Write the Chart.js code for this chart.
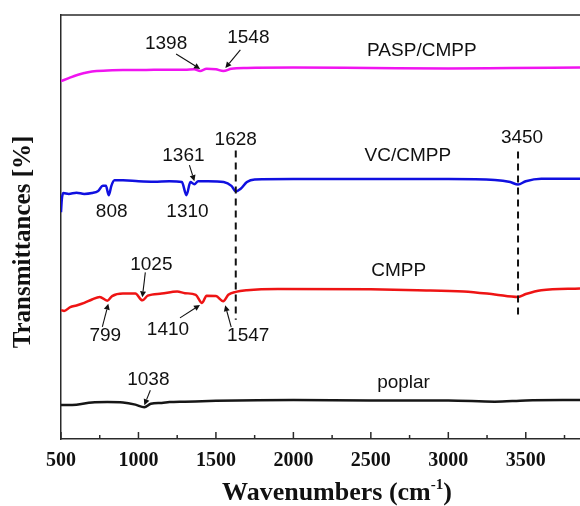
<!DOCTYPE html>
<html>
<head>
<meta charset="utf-8">
<script src="https://cdn.jsdelivr.net/npm/chart.js@4.4.1/dist/chart.umd.min.js"></script>
<style>
  body { margin: 0; background: #fff; }
  canvas { display: block; }
</style>
</head>
<body>
<canvas id="ftir" width="580" height="506"></canvas>
<script>
// FTIR spectra: wavenumber (cm-1) vs transmittance, curves offset for clarity
const paspWn = [500, 550, 600, 650, 700, 800, 900, 1000, 1100, 1200, 1300, 1360, 1398, 1440, 1500, 1548, 1600, 1700, 2000, 2500, 3000, 3400, 3850];
const paspT  = [84.4, 85.1, 85.8, 86.3, 86.7, 86.9, 87.0, 87.0, 87.1, 87.1, 87.1, 87.2, 86.8, 87.3, 87.2, 86.8, 87.3, 87.5, 87.6, 87.5, 87.4, 87.5, 87.6];

const vcWn = [500, 505, 515, 550, 600, 650, 700, 740, 770, 790, 808, 825, 845, 900, 1000, 1100, 1200, 1280, 1310, 1335, 1361, 1385, 1450, 1550, 1600, 1628, 1660, 1700, 1750, 2000, 2500, 3000, 3300, 3400, 3450, 3500, 3600, 3850];
const vcT  = [53.5, 56.4, 58.0, 57.8, 58.1, 57.8, 58.0, 58.5, 59.7, 59.7, 57.5, 59.7, 61.0, 61.0, 60.8, 60.7, 60.8, 60.6, 57.5, 60.6, 60.1, 60.8, 60.8, 60.6, 59.7, 58.4, 59.0, 60.6, 61.2, 61.3, 61.3, 61.3, 61.1, 60.6, 60.0, 60.8, 61.4, 61.4];

const cmppWn = [500, 520, 560, 600, 650, 700, 750, 799, 830, 900, 980, 1025, 1060, 1150, 1250, 1300, 1370, 1410, 1440, 1500, 1547, 1580, 1628, 1700, 1900, 2500, 2800, 3100, 3300, 3450, 3500, 3600, 3850];
const cmppT  = [30.4, 30.2, 31.1, 31.5, 32.1, 32.9, 33.5, 32.6, 33.7, 34.3, 34.3, 32.7, 33.8, 34.3, 34.8, 34.4, 34.0, 32.1, 33.8, 33.7, 32.5, 34.0, 34.7, 35.1, 35.4, 35.3, 35.1, 34.8, 34.1, 33.5, 34.2, 35.1, 35.5];

const poplarWn = [500, 600, 700, 800, 900, 980, 1038, 1080, 1150, 1200, 1300, 1500, 2000, 2500, 3000, 3300, 3500, 3850];
const poplarT  = [8.0, 8.1, 8.6, 8.7, 8.6, 8.1, 7.5, 8.3, 8.5, 8.7, 8.8, 9.0, 9.2, 9.1, 9.1, 8.8, 9.1, 9.2];

const seriesNames = ['PASP/CMPP', 'VC/CMPP', 'CMPP', 'poplar'];
const xTicks = [500, 1000, 1500, 2000, 2500, 3000, 3500];
const xMinorTicks = [750, 1250, 1750, 2250, 2750, 3250, 3750];

// labelled bands on each curve
const paspPeaks = [1398, 1548];
const vcPeaks = [808, 1310, 1361];
const cmppPeaks = [799, 1025, 1410, 1547];
const poplarPeaks = [1038];
const guideBands = [1628, 3450];

const curves = [
  { wn: paspWn, t: paspT, color: '#f014f0', peaks: paspPeaks },
  { wn: vcWn, t: vcT, color: '#1010e0', peaks: vcPeaks },
  { wn: cmppWn, t: cmppT, color: '#ee1414', peaks: cmppPeaks },
  { wn: poplarWn, t: poplarT, color: '#161616', peaks: poplarPeaks }
];

// pixel offsets from the curve point: text centre, arrow tail, arrow tip
const peakLayout = {
  '0:1398': { text: [-34, -27], from: [-24, -17], tip: [0, -2] },
  '0:1548': { text: [25, -33], from: [17, -21], tip: [2, -3] },
  '1:808':  { text: [3, 17] },
  '1:1310': { text: [1, 17] },
  '1:1361': { text: [-11, -28], from: [-5, -19], tip: [0, -3] },
  '2:799':  { text: [-2, 35], from: [-5, 26], tip: [1, 3] },
  '2:1025': { text: [9, -36], from: [3, -28], tip: [0, -3] },
  '2:1410': { text: [-34, 27], from: [-22, 15], tip: [-2, 2] },
  '2:1547': { text: [25, 35], from: [8, 26], tip: [2, 4] },
  '3:1038': { text: [4, -27], from: [6, -17], tip: [0, -2] }
};
// dashed guides: from above VC/CMPP down past CMPP
const guideLayout = {
  1628: { top: -41, bottom: 28, text: [0, -11] },
  3450: { top: -33, bottom: 18, text: [4, -14] }
};
// curve names: anchored at a wavenumber, lifted above the curve
const nameLayout = [[2829, -18], [2739, -23], [2680, -19], [2711, -18]];

function valueAt(wn, t, w) {
  for (let i = 1; i < wn.length; i++) {
    if (w <= wn[i]) {
      const f = (w - wn[i - 1]) / (wn[i] - wn[i - 1]);
      return t[i - 1] + f * (t[i] - t[i - 1]);
    }
  }
  return t[t.length - 1];
}

const labelFont = '19px "Liberation Sans", Arial, sans-serif';
const ink = '#111';

function arrow(ctx, x0, y0, x1, y1) {
  const a = Math.atan2(y1 - y0, x1 - x0);
  const len = 6, half = 3;
  ctx.beginPath();
  ctx.moveTo(x0, y0);
  ctx.lineTo(x1 - Math.cos(a) * len, y1 - Math.sin(a) * len);
  ctx.stroke();
  ctx.beginPath();
  ctx.moveTo(x1, y1);
  ctx.lineTo(x1 - Math.cos(a) * len - Math.sin(a) * half, y1 - Math.sin(a) * len + Math.cos(a) * half);
  ctx.lineTo(x1 - Math.cos(a) * len + Math.sin(a) * half, y1 - Math.sin(a) * len - Math.cos(a) * half);
  ctx.closePath();
  ctx.fill();
}

const decorations = {
  id: 'decorations',
  afterDraw(chart) {
    const ctx = chart.ctx;
    const xs = chart.scales.x, ys = chart.scales.y;
    const area = chart.chartArea;
    const at = (ci, w) => {
      const c = curves[ci];
      return { x: xs.getPixelForValue(w), y: ys.getPixelForValue(valueAt(c.wn, c.t, w)) };
    };

    ctx.save();
    // top frame line and inward ticks
    ctx.strokeStyle = '#2a2a2a';
    ctx.lineWidth = 1.5;
    ctx.beginPath();
    ctx.moveTo(area.left, area.top);
    ctx.lineTo(area.right, area.top);
    ctx.stroke();
    xTicks.forEach(v => {
      const x = xs.getPixelForValue(v);
      ctx.beginPath(); ctx.moveTo(x, area.bottom); ctx.lineTo(x, area.bottom - 7); ctx.stroke();
    });
    xMinorTicks.forEach(v => {
      const x = xs.getPixelForValue(v);
      ctx.beginPath(); ctx.moveTo(x, area.bottom); ctx.lineTo(x, area.bottom - 4); ctx.stroke();
    });

    // peak labels and arrows
    ctx.fillStyle = ink;
    ctx.strokeStyle = ink;
    ctx.lineWidth = 1.1;
    ctx.font = labelFont;
    ctx.textAlign = 'center';
    ctx.textBaseline = 'middle';
    curves.forEach((c, ci) => {
      c.peaks.forEach(w => {
        const lay = peakLayout[ci + ':' + w];
        const p = at(ci, w);
        ctx.fillText(String(w), p.x + lay.text[0], p.y + lay.text[1]);
        if (lay.from) {
          arrow(ctx, p.x + lay.from[0], p.y + lay.from[1], p.x + lay.tip[0], p.y + lay.tip[1]);
        }
      });
    });

    // dashed band guides
    ctx.lineWidth = 2;
    ctx.setLineDash([7, 5]);
    guideBands.forEach(w => {
      const lay = guideLayout[w];
      const top = at(1, w).y + lay.top;
      const bottom = at(2, w).y + lay.bottom;
      const x = xs.getPixelForValue(w);
      ctx.beginPath(); ctx.moveTo(x, top); ctx.lineTo(x, bottom); ctx.stroke();
    });
    ctx.setLineDash([]);
    guideBands.forEach(w => {
      const lay = guideLayout[w];
      const top = at(1, w).y + lay.top;
      ctx.fillText(String(w), xs.getPixelForValue(w) + lay.text[0], top + lay.text[1]);
    });

    // curve names
    seriesNames.forEach((name, ci) => {
      const p = at(ci, nameLayout[ci][0]);
      ctx.fillText(name, p.x, p.y + nameLayout[ci][1]);
    });

    // axis titles
    ctx.fillStyle = '#111';
    ctx.save();
    ctx.translate(24, 242);
    ctx.rotate(-Math.PI / 2);
    ctx.font = 'bold 25px "Liberation Serif", "Times New Roman", serif';
    ctx.fillText('Transmittances [%]', 0, 0);
    ctx.restore();

    const mainFont = 'bold 26px "Liberation Serif", "Times New Roman", serif';
    const supFont = 'bold 15px "Liberation Serif", "Times New Roman", serif';
    ctx.textAlign = 'left';
    ctx.textBaseline = 'alphabetic';
    ctx.font = mainFont;
    const w1 = ctx.measureText('Wavenumbers (cm').width;
    const w3 = ctx.measureText(')').width;
    ctx.font = supFont;
    const w2 = ctx.measureText('-1').width;
    let x0 = 337 - (w1 + w2 + w3) / 2;
    const base = 500;
    ctx.font = mainFont;
    ctx.fillText('Wavenumbers (cm', x0, base);
    ctx.font = supFont;
    ctx.fillText('-1', x0 + w1, base - 11);
    ctx.font = mainFont;
    ctx.fillText(')', x0 + w1 + w2, base);
    ctx.restore();
  }
};

new Chart(document.getElementById('ftir'), {
  type: 'line',
  data: {
    datasets: curves.map((c, i) => ({
      label: seriesNames[i],
      data: c.wn.map((w, k) => ({ x: w, y: c.t[k] })),
      borderColor: c.color,
      borderWidth: 2.5,
      pointRadius: 0,
      cubicInterpolationMode: 'monotone',
      fill: false
    }))
  },
  options: {
    responsive: false,
    animation: false,
    layout: { padding: { top: 15, right: 0, left: 0, bottom: 0 } },
    plugins: { legend: { display: false }, tooltip: { enabled: false } },
    scales: {
      x: {
        type: 'linear',
        min: 500,
        max: 3850,
        grid: { display: false, drawTicks: false },
        border: { display: true, color: '#2a2a2a', width: 1.5 },
        ticks: {
          color: '#111',
          padding: 10,
          maxRotation: 0,
          autoSkip: false,
          callback: v => String(v),
          font: { family: '"Liberation Serif", "Times New Roman", serif', size: 20, weight: 'bold' }
        },
        afterBuildTicks: scale => { scale.ticks = xTicks.map(v => ({ value: v })); },
        afterFit: scale => { scale.height = 67; }
      },
      y: {
        min: 0,
        max: 100,
        grid: { display: false, drawTicks: false },
        border: { display: true, color: '#2a2a2a', width: 1.5 },
        ticks: { display: false },
        afterFit: scale => { scale.width = 61; }
      }
    }
  },
  plugins: [decorations]
});
</script>
</body>
</html>
